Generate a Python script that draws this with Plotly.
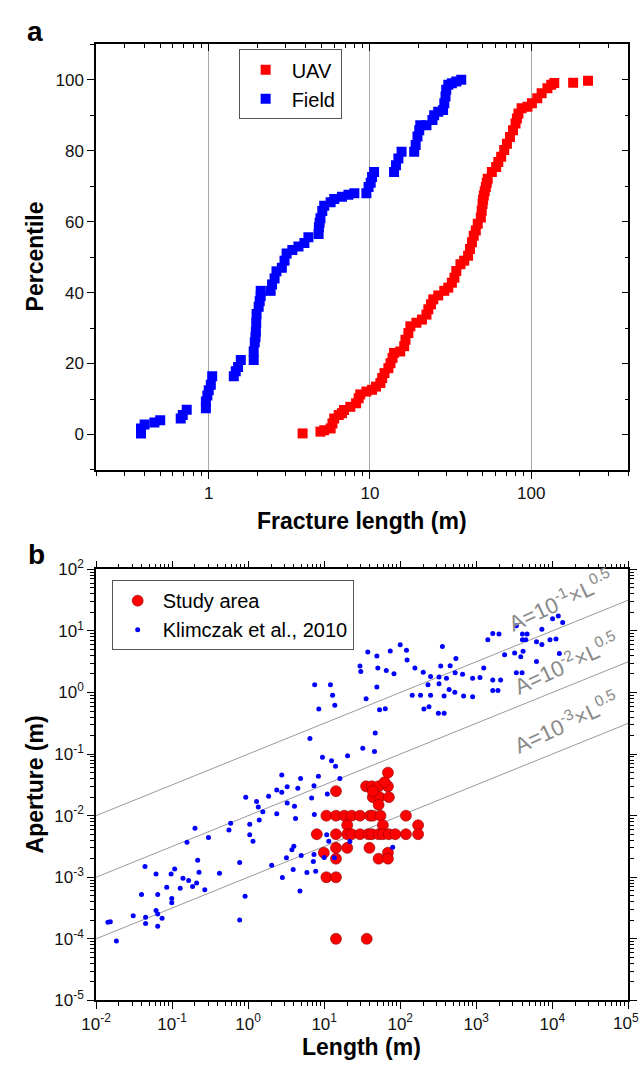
import plotly.graph_objects as go

# ---------------- Panel a data (cumulative percentile of fracture length) ----------------
uav_length = [3.82, 4.93, 5.2, 5.7, 5.85, 6.0, 6.4, 6.7, 6.9, 7.55, 8.2, 8.5, 8.7, 9.5, 10.3, 10.9,
              11.6, 11.9, 12.3, 13.0, 13.4, 13.8, 14.1, 15.4, 16.3, 16.6, 17.3, 17.8, 19.4, 21.0,
              22.4, 23.0, 23.9, 24.7, 26.5, 28.9, 30.6, 32.2, 33.4, 34.3, 36.4, 38.4, 40.6, 41.7,
              42.9, 44.0, 45.3, 46.6, 48.7, 49.3, 49.9, 50.3, 50.8, 51.5, 52.3, 53.0, 53.7, 57.0,
              60.6, 62.5, 65.1, 68.0, 70.7, 73.8, 77.1, 79.9, 81.5, 83.3, 87.2, 94.8, 101, 109,
              116, 126, 133, 139, 182, 225]
uav_pct = [0.3, 0.8, 1.2, 1.7, 3.1, 4.5, 5.5, 6.0, 6.9, 7.8, 8.8, 10.2, 11.3, 12.1, 12.6, 13.5,
           14.5, 15.9, 17.3, 18.7, 20.1, 21.6, 23.0, 23.4, 24.9, 26.7, 28.6, 30.5, 31.5, 32.4,
           33.8, 35.3, 36.7, 38.1, 39.2, 40.5, 41.4, 42.8, 44.2, 46.1, 48.0, 49.0, 50.4, 52.3,
           54.2, 56.0, 57.5, 59.4, 61.2, 63.1, 65.0, 66.2, 67.4, 68.6, 69.8, 71.0, 72.1, 74.0,
           75.4, 76.8, 78.3, 80.2, 82.0, 83.9, 85.8, 87.7, 89.1, 90.5, 92.0, 92.4, 93.4, 94.8,
           96.2, 97.6, 98.6, 99.1, 99.2, 99.7]

field_length = [0.38, 0.38, 0.40, 0.46, 0.50, 0.67, 0.69, 0.73, 0.96, 0.96, 0.98, 1.00, 1.03, 1.05,
                1.43, 1.47, 1.52, 1.58, 1.90, 1.90, 1.93, 1.95, 1.96, 1.97, 1.98, 2.04, 2.07, 2.10,
                2.10, 2.42, 2.47, 2.56, 2.63, 2.84, 2.95, 3.04, 3.30, 3.60, 3.92, 4.15, 4.80, 4.82,
                4.87, 4.93, 5.06, 5.20, 5.70, 6.00, 6.70, 7.35, 8.00, 9.50, 9.80, 10.1, 10.3, 10.6,
                14.1, 14.5, 15.0, 15.7, 18.8, 19.2, 19.7, 20.2, 20.5, 22.4, 24.4, 25.0, 26.5, 28.4,
                28.9, 29.4, 29.7, 30.6, 32.2, 34.3, 36.8]
field_pct = [0.3, 1.7, 2.8, 3.4, 4.0, 4.5, 5.5, 7.0, 7.4, 9.3, 11.0, 12.5, 14.0, 16.4,
             16.4, 17.8, 19.0, 21.0, 21.0, 23.4, 26.0, 27.5, 29.0, 31.5, 34.0, 36.0, 37.6, 39.0,
             40.5, 40.5, 42.3, 44.0, 46.0, 47.0, 49.0, 51.0, 52.0, 53.0, 54.0, 55.6, 56.5, 58.4,
             59.7, 61.0, 63.0, 64.5, 65.5, 66.4, 67.0, 67.6, 68.0, 68.0, 69.8, 71.0, 72.6, 74.0,
             74.0, 75.9, 77.8, 79.7, 79.7, 81.6, 84.0, 85.8, 87.2, 87.2, 88.7, 90.0, 91.0, 91.5,
             93.4, 95.3, 97.2, 98.6, 99.0, 99.5, 100.0]

# ---------------- Panel b data (aperture vs length) ----------------
study_length = [14.3, 35.6, 42.4, 52, 69, 62.4, 69, 43.6, 53.4, 71, 43.6, 52,
                10.7, 14.3, 18.4, 23, 29.6, 40.2, 43.6, 55.1, 119,
                20.1, 59.2, 172,
                8.0, 14.3, 20.1, 23, 29.6, 38.2, 42.4, 52, 59.2, 70.8, 86, 119, 172,
                14.3, 20.1, 39.4, 9.9, 69, 14.3, 52, 69, 10.7, 14.3, 14.3, 36.3]
study_aperture = [0.025, 0.03, 0.03, 0.03, 0.03, 0.035, 0.05, 0.02, 0.02, 0.02, 0.025, 0.015,
                  0.01, 0.01, 0.01, 0.01, 0.01, 0.01, 0.01, 0.01, 0.01,
                  0.007, 0.007, 0.007,
                  0.005, 0.005, 0.005, 0.005, 0.005, 0.005, 0.005, 0.005, 0.005, 0.005, 0.005, 0.005, 0.005,
                  0.003, 0.003, 0.003, 0.0025, 0.0025, 0.002, 0.002, 0.002, 0.001, 0.001, 0.0001, 0.0001]

klim_length = [10100, 12000, 13700, 1420, 1650, 1990, 3370, 4050, 4670, 4050, 4490, 7300, 6200, 7300,
               9330, 11200, 12400, 2360, 3200, 3850, 4130, 6200, 3370, 4010, 1650, 2090, 1650, 1930,
               897, 1120, 1255, 897, 682, 523, 440, 378, 324, 406, 528, 661, 540, 454, 341, 359, 324,
               251, 232, 251, 185, 144, 239, 205, 318, 378, 201, 156, 123, 121, 100, 74, 65.6, 82.8,
               49.3, 50.8, 37.5, 29.6, 30.3, 49.3, 35.6, 53.5, 63.6, 7.5, 12.1, 12.9, 13.8, 8.5,
               46.9, 32.2, 45.9, 6.5, 9.5, 12.5, 14.1, 20.3, 16.1, 8.4, 4.9, 2.77, 3.26, 2.38, 2.77,
               4.5, 7.35, 1.86, 0.93, 1.29, 1.36, 1.56, 3.26, 4.07, 2.38, 4.2, 1.4, 0.589, 0.56, 1.05,
               1.05, 1.16, 7.43, 10.8, 11.5, 21.8, 13.6, 10.0, 7.35, 7.2, 79.6, 3.99, 3.76, 4.99,
               3.19, 2.04, 0.774, 3.91, 5.93, 7.73, 2.82, 4.8, 0.912, 0.774, 0.42, 0.2, 0.157, 0.301,
               0.217, 0.226, 0.269, 0.139, 0.165, 0.186, 0.21, 0.097, 0.108, 0.085, 0.128, 0.099,
               0.099, 0.0647, 0.0396, 0.044, 0.0615, 0.0615, 0.0647, 0.0738, 0.0448, 0.0448, 0.0647,
               0.0308, 0.0143, 0.0154, 0.0185, 6.84, 11.0]
klim_aperture = [15.8, 17.5, 13.7, 7.2, 9.1, 8.9, 12.1, 8.9, 8.9, 7.2, 7.2, 10.7, 6.7, 6.0,
                 7.2, 7.4, 4.3, 4.1, 4.4, 3.8, 4.7, 3.2, 2.1, 2.1, 1.6, 1.6, 1.08, 1.08,
                 1.7, 1.76, 2.5, 0.855, 0.877, 1.01, 1.12, 0.877, 1.39, 1.7, 2.1, 1.99, 3.56, 2.73, 2.7, 5.6, 1.78,
                 1.82, 1.34, 0.9, 0.9, 0.9, 0.586, 0.538, 0.459, 0.46, 2.14, 2.5, 3.36, 4.84, 5.96, 4.72, 2.27, 2.01,
                 3.93, 2.5, 4.56, 2.7, 2.19, 1.23, 0.79, 0.525, 0.545, 1.34, 1.34, 0.9, 0.622, 0.538,
                 0.221, 0.124, 0.11, 0.179, 0.0893, 0.0782, 0.0635, 0.094, 0.04, 0.0435, 0.04, 0.0457, 0.0294, 0.026, 0.0239,
                 0.028, 0.0305, 0.0207, 0.0199, 0.017, 0.0138, 0.0116, 0.016, 0.0142, 0.0107, 0.009, 0.00847, 0.0075, 0.00587, 0.00723,
                 0.00489, 0.00383, 0.0104, 0.00489, 0.00383, 0.0038, 0.00208, 0.0021, 0.00235, 0.0018, 0.00308, 0.0032, 0.00279, 0.00226,
                 0.00208, 0.00157, 0.00173, 0.00134, 0.00119, 0.00125, 0.00099, 0.0006, 0.00049, 0.000202, 0.00116, 0.00624, 0.00369, 0.00444,
                 0.00189, 0.0012, 0.000628, 0.000964, 0.000885, 0.00071, 0.000803, 0.00113, 0.00136, 0.00069, 0.00066, 0.00045,
                 0.000385, 0.000524, 0.000524, 0.0015, 0.00113, 0.000288, 0.000252, 0.000215, 0.000225, 0.000177, 0.00016,
                 0.000237, 0.000185, 0.00019, 0.0000925, 0.0194, 0.0225]

# reference lines A = c * L^0.5
ref_coeffs = [1e-1, 1e-2, 1e-3]
ref_exponents = [-1, -2, -3]
ref_power = 0.5
ref_length_ends = [1e-2, 1e5]

# tick labels
a_x_tickvals = [1, 10, 100]
a_x_ticktext = ["1", "10", "100"]
b_x_tickvals = [1e-2, 1e-1, 1e0, 1e1, 1e2, 1e3, 1e4, 1e5]
b_x_ticktext = ["10<sup>-2</sup>", "10<sup>-1</sup>", "10<sup>0</sup>", "10<sup>1</sup>",
                "10<sup>2</sup>", "10<sup>3</sup>", "10<sup>4</sup>", ""]
b_x_edge_label = "10<sup>5</sup>"   # drawn at the right edge so it is not dropped
b_y_tickvals = [1e-5, 1e-4, 1e-3, 1e-2, 1e-1, 1e0, 1e1, 1e2]
b_y_ticktext = ["10<sup>-5</sup>", "10<sup>-4</sup>", "10<sup>-3</sup>", "10<sup>-2</sup>",
                "10<sup>-1</sup>", "10<sup>0</sup>", "10<sup>1</sup>", "10<sup>2</sup>"]

# ---------------- layout helpers ----------------
W, H = 641, 1077
FONT = "Liberation Sans, Arial, sans-serif"
EPS = 1e-4


def px(xp):
    return xp / W


def py(yp):
    return 1 - yp / H


def minor_vals(e0, e1, lo, hi):
    out = []
    for e in range(e0, e1 + 1):
        for m in range(2, 10):
            v = m * 10 ** e
            if lo <= v <= hi:
                out.append(v)
    return out


X_DOM = [px(83), px(628)]
A_DOM = [py(467.5), py(33)]
B_DOM = [py(1009), py(569)]

fig = go.Figure()

# Panel a
fig.add_trace(go.Scatter(x=uav_length, y=uav_pct, mode="markers", name="UAV",
                         marker=dict(symbol="square", size=10, color="#ff0000"),
                         xaxis="x", yaxis="y", legend="legend"))
fig.add_trace(go.Scatter(x=field_length, y=field_pct, mode="markers", name="Field",
                         marker=dict(symbol="square", size=10, color="#0000ff"),
                         xaxis="x", yaxis="y", legend="legend"))
# overlay axes (inward ticks on top/right)
fig.add_trace(go.Scatter(x=[], y=[], mode="markers", showlegend=False, xaxis="x3", yaxis="y3"))

# Panel b reference lines
for c in ref_coeffs:
    fig.add_trace(go.Scatter(x=ref_length_ends, y=[c * L ** ref_power for L in ref_length_ends],
                             mode="lines", line=dict(color="#9a9a9a", width=1),
                             showlegend=False, hoverinfo="skip", xaxis="x2", yaxis="y2"))

fig.add_trace(go.Scatter(x=study_length, y=study_aperture, mode="markers", name="Study area",
                         marker=dict(symbol="circle", size=11, color="#ff0000",
                                     line=dict(color="#8a0000", width=0.6)),
                         xaxis="x2", yaxis="y2", legend="legend2"))
fig.add_trace(go.Scatter(x=klim_length, y=klim_aperture, mode="markers", name="Klimczak et al., 2010",
                         marker=dict(symbol="circle", size=5, color="#0000ff"),
                         xaxis="x2", yaxis="y2", legend="legend2"))

tickfont = dict(family=FONT, size=17, color="#111111")
common_line = dict(showline=True, linecolor="black", linewidth=1.6, tickcolor="black",
                   tickwidth=1.4, zeroline=False)

a_x_minor = minor_vals(-1, 2, 0.2, 400)
b_x_minor = minor_vals(-2, 4, 1e-2, 1e5)
b_y_minor = minor_vals(-5, 1, 1e-5, 1e2)

fig.update_layout(
    width=W, height=H, autosize=False,
    margin=dict(l=0, r=0, t=0, b=0),
    paper_bgcolor="white", plot_bgcolor="white",
    font=dict(family=FONT, color="black"),
    xaxis=dict(type="log", range=[-0.69897, 2.60206], domain=X_DOM, anchor="y",
               tickmode="array", tickvals=a_x_tickvals, ticktext=a_x_ticktext,
               ticks="outside", ticklen=7, tickfont=tickfont,
               showgrid=True, gridcolor="#a8a8a8", gridwidth=1,
               minor=dict(tickmode="array", tickvals=a_x_minor, ticks="outside", ticklen=4,
                          tickwidth=1.2, tickcolor="black", showgrid=False),
               **common_line),
    xaxis3=dict(type="log", range=[-0.69897, 2.60206], overlaying="x", side="top", anchor="y",
                tickmode="array", tickvals=a_x_tickvals, ticks="inside", ticklen=7,
                showticklabels=False, showgrid=False,
                minor=dict(tickmode="array", tickvals=a_x_minor, ticks="inside", ticklen=4,
                           tickwidth=1.2, tickcolor="black", showgrid=False),
                **common_line),
    yaxis=dict(range=[-10, 110], domain=A_DOM, anchor="x", tick0=0, dtick=20,
               ticks="outside", ticklen=7, tickfont=tickfont, showgrid=False,
               minor=dict(dtick=10, tick0=0, ticks="outside", ticklen=4, tickwidth=1.2,
                          tickcolor="black", showgrid=False),
               **common_line),
    yaxis3=dict(range=[-10, 110], overlaying="y", side="right", anchor="x", tick0=0, dtick=20,
                ticks="inside", ticklen=7, showticklabels=False, showgrid=False,
                minor=dict(dtick=10, tick0=0, ticks="inside", ticklen=4, tickwidth=1.2,
                           tickcolor="black", showgrid=False),
                **common_line),
    xaxis2=dict(type="log", range=[-2 - EPS, 5 + EPS], domain=X_DOM, anchor="y2",
                tickmode="array", tickvals=b_x_tickvals, ticktext=b_x_ticktext,
                ticks="outside", ticklen=7, tickfont=tickfont, mirror="ticks", showgrid=False,
                minor=dict(tickmode="array", tickvals=b_x_minor, ticks="outside", ticklen=4,
                           tickwidth=1.2, tickcolor="black", showgrid=False),
                **common_line),
    yaxis2=dict(type="log", range=[-5 - EPS, 2 + EPS], domain=B_DOM, anchor="x2",
                tickmode="array", tickvals=b_y_tickvals, ticktext=b_y_ticktext,
                ticks="outside", ticklen=7, tickfont=tickfont, mirror="ticks", showgrid=False,
                minor=dict(tickmode="array", tickvals=b_y_minor, ticks="outside", ticklen=4,
                           tickwidth=1.2, tickcolor="black", showgrid=False),
                **common_line),
    legend=dict(x=px(229), y=py(38), xanchor="left", yanchor="top",
                bordercolor="#555555", borderwidth=1, bgcolor="white",
                font=dict(family=FONT, size=20, color="black"), itemwidth=42,
                tracegroupgap=0),
    legend2=dict(x=px(99), y=py(580), xanchor="left", yanchor="top",
                 bordercolor="#555555", borderwidth=1, bgcolor="white",
                 font=dict(family=FONT, size=20, color="black"), itemwidth=40,
                 tracegroupgap=0),
)

bold = dict(family=FONT, size=23, color="black")
ann = [
    dict(text="<b>a</b>", x=px(20), y=py(20), font=dict(family=FONT, size=28, color="black")),
    dict(text="<b>b</b>", x=px(22), y=py(554), font=dict(family=FONT, size=28, color="black")),
    dict(text="<b>Percentile</b>", x=px(20), y=py(250), textangle=-90, font=bold),
    dict(text="<b>Fracture length (m)</b>", x=px(355), y=py(520), font=bold),
    dict(text="<b>Aperture (m)</b>", x=px(20), y=py(789), textangle=-90, font=bold),
    dict(text="<b>Length (m)</b>", x=px(355), y=py(1057), font=bold),
    dict(text=b_x_edge_label, x=1.0, y=py(1018), xanchor="right", yanchor="top",
         font=tickfont),
]
label_pos = [(558, 600), (564, 665), (564, 725)]
for e, (lx, ly) in zip(ref_exponents, label_pos):
    ann.append(dict(text=f"A=10<sup>{e}</sup>×L<sup>{ref_power}</sup>", x=px(lx), y=py(ly),
                    textangle=-25, font=dict(family=FONT, size=22, color="#8a8a8a")))
for a in ann:
    a.setdefault("xanchor", "center")
    a.setdefault("yanchor", "middle")
    a.update(xref="paper", yref="paper", showarrow=False)
fig.update_layout(annotations=ann)

fig.write_html("out.html")
